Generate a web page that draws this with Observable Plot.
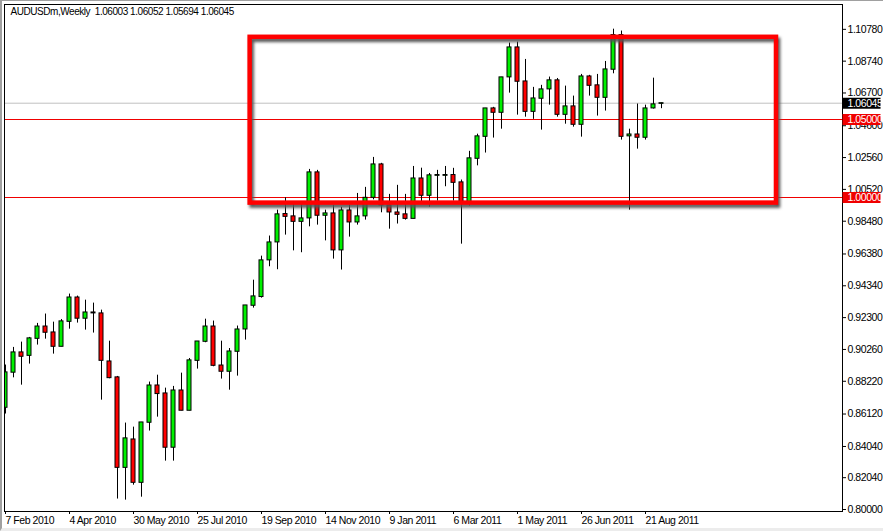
<!DOCTYPE html>
<html><head><meta charset="utf-8">
<script src="https://cdn.jsdelivr.net/npm/d3@7"></script>
<script src="https://cdn.jsdelivr.net/npm/@observablehq/plot@0.6"></script>
<style>
html,body{margin:0;padding:0;background:#fff;overflow:hidden}
#chart{position:relative;width:883px;height:531px}
#chart svg{display:block;font-family:"Liberation Sans",sans-serif}
#chart svg text{letter-spacing:-.45px}
#chart g[stroke="#ff0000"]{filter:drop-shadow(2px 3px 1.5px #555)}
#edge{position:absolute;left:0;top:0;right:0;bottom:0;box-sizing:border-box;border-left:2px solid #a0a0a0;border-top:1px solid #a0a0a0;border-bottom:3px solid #ececec;pointer-events:none}
</style></head><body><div id="chart"><div id="edge"></div></div>
<script>
const symbolTitle = "AUDUSDm,Weekly  1.06003 1.06052 1.05694 1.06045";
const opens = [.8652,.8877,.9007,.8985,.9094,.9173,.9135,.9043,.9203,.9359,.9223,.9263,.9257,.8949,.8847,.8267,.8449,.8171,.8556,.8795,.8744,.8396,.8763,.8633,.8953,.9075,.9173,.8923,.8883,.9011,.9154,.9306,.9362,.9597,.9712,.9894,.9879,.9844,.9866,1.0161,.9883,.9898,.9661,.9917,.984,.9879,.9998,1.0212,.9949,.9904,.9892,.9863,1.0122,1.0011,1.0139,1.0139,1.0144,1.0097,.997,1.0248,1.0389,1.0571,1.0543,1.077,1.0962,1.0744,1.0549,1.0633,1.0693,1.0751,1.053,1.0584,1.0466,1.0776,1.0719,1.0639,1.0819,1.1041,1.0392,1.0404,1.0383,1.0571,1.06003];
const highs = [.8926,.9039,.9073,.9103,.9193,.9253,.9201,.9218,.9381,.9368,.9342,.9323,.9278,.9079,.8853,.8554,.8528,.8558,.8817,.8861,.8778,.8789,.8874,.8968,.9077,.922,.9208,.9079,.9032,.9176,.9308,.947,.9624,.9753,.9919,.9998,.9962,.9964,1.018,1.0174,.9919,.9951,.9937,.9951,1.0026,1.0065,1.0257,1.0219,1.002,1.0078,1.002,1.0199,1.0188,1.0154,1.0174,1.0199,1.0187,1.0112,1.0296,1.0406,1.0571,1.0578,1.077,1.099,1.0996,1.0885,1.0706,1.0719,1.0772,1.0763,1.0714,1.065,1.0789,1.0783,1.0789,1.0872,1.1079,1.1067,1.0438,1.0599,1.0592,1.0765,1.06052];
const lows = [.8612,.8844,.8797,.8932,.9054,.9092,.8996,.9043,.9156,.9195,.915,.9131,.8701,.8838,.8067,.806,.8156,.8079,.8503,.8592,.831,.831,.8633,.8633,.89,.9069,.8915,.8836,.8765,.8855,.9086,.9291,.9355,.9556,.9537,.9759,.9658,.9646,.9812,.9823,.9722,.9605,.9535,.9746,.9823,.9855,.9985,.9902,.9797,.983,.9855,.9863,.9972,.9938,.9977,1.0069,.9977,.9701,.9945,1.0203,1.0285,1.0381,1.0438,1.0669,1.0528,1.0515,1.0501,1.0432,1.0592,1.0515,1.047,1.0451,1.0387,1.065,1.0522,1.0554,1.0793,1.0368,.9919,1.031,1.0368,1.0567,1.05694];
const closes = [.8879,.9007,.8979,.9097,.9173,.9133,.9043,.9206,.9359,.9223,.9263,.9257,.8953,.8842,.8267,.8456,.8171,.8558,.8795,.874,.8396,.8763,.8633,.8956,.9077,.9173,.8921,.8883,.9013,.9154,.9308,.9366,.9597,.9712,.9892,.9876,.9844,.9866,1.0161,.9883,.9898,.9661,.9917,.984,.9879,.9998,1.0212,.9949,.9904,.9889,.9863,1.0122,1.0011,1.0142,1.0144,1.0144,1.0094,.997,1.0251,1.0392,1.0571,1.0543,1.077,1.0962,1.0742,1.0549,1.0635,1.0693,1.0751,1.053,1.0584,1.0466,1.0776,1.0716,1.0639,1.0821,1.1041,1.0389,1.0404,1.0383,1.0571,1.0597,1.06045];
const xTickWeeks = [0,8,16,24,32,40,48,56,64,72,80];
const xTickLabels = ["7 Feb 2010","4 Apr 2010","30 May 2010","25 Jul 2010","19 Sep 2010","14 Nov 2010","9 Jan 2011","6 Mar 2011","1 May 2011","26 Jun 2011","21 Aug 2011"];
const yTicks = [1.1078,1.0874,1.067,1.046,1.0256,1.0052,.9848,.9638,.9434,.923,.9026,.8822,.8612,.8404,.8204,.8];
const levels = [
  {price:1.06045,label:"1.06045",line:"#c0c0c0",box:"#000000"},
  {price:1.05,label:"1.05000",line:"#f00000",box:"#f00000"},
  {price:1.0,label:"1.00000",line:"#f00000",box:"#f00000"}
];
const highlight = {weekFrom:30.58,weekTo:96.375,priceLow:.99641,priceHigh:1.10269};

const candles = opens.map((o,i)=>({i,o,h:highs[i],l:lows[i],c:closes[i],up:closes[i]>=o}));
const xLabel = new Map(xTickWeeks.map((w,k)=>[w,xTickLabels[k]]));

const chart = Plot.plot({
  width:883,height:531,
  marginLeft:4,marginRight:41,marginTop:4,marginBottom:20,
  x:{type:"linear",domain:[-.125,104.625],axis:null},
  y:{type:"linear",domain:[.798718,1.123718],axis:null},
  marks:[
    Plot.ruleY(levels,{y:"price",stroke:"line",strokeWidth:1}),
    Plot.ruleX(candles,{x:"i",y1:"l",y2:"h",stroke:"#000",strokeWidth:1}),
    Plot.rect(candles,{x1:d=>d.i-.25,x2:d=>d.i+.25,y1:"o",y2:"c",fill:d=>d.up?"#00f000":"#ff0000",stroke:"#000",strokeWidth:1,clip:true}),
    Plot.frame({stroke:"#000"}),
    Plot.rect([highlight],{x1:"weekFrom",x2:"weekTo",y1:"priceLow",y2:"priceHigh",fill:"none",stroke:"#ff0000",strokeWidth:4.5}),
    Plot.axisX({ticks:xTickWeeks,tickFormat:w=>xLabel.get(w),anchor:"bottom",label:null,tickSize:3,tickPadding:2,textAnchor:"start",fontSize:10.5,fill:"#000"}),
    Plot.axisY({ticks:yTicks,tickFormat:d3.format(".5f"),anchor:"right",label:null,tickSize:3,tickPadding:2,fontSize:10.5,fill:"#000"}),
    Plot.ruleY(levels,{y:"price",x1:104.69,x2:109.44,stroke:"box",strokeWidth:11}),
    Plot.text(levels,{y:"price",x:105.25,text:"label",fill:"#fff",textAnchor:"start",fontSize:10.5}),
    Plot.text([symbolTitle],{frameAnchor:"top-left",dx:6,dy:3,fontSize:10,fill:"#000",textAnchor:"start"})
  ]
});
document.getElementById("chart").prepend(chart);
</script></body></html>
